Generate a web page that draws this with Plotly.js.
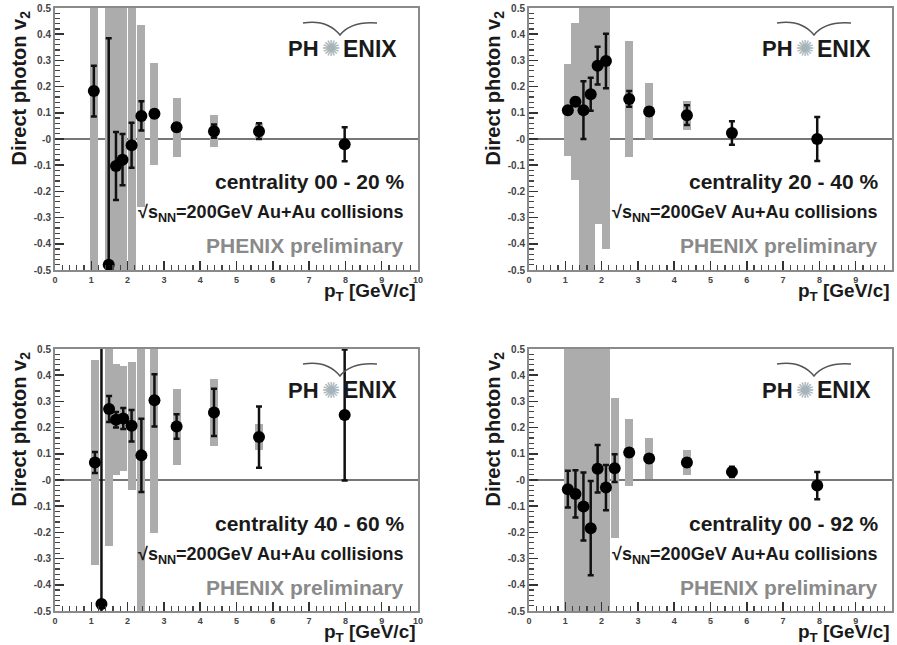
<!DOCTYPE html>
<html>
<head>
<meta charset="utf-8">
<script src="https://cdn.plot.ly/plotly-3.0.1.min.js"></script>
<style>html,body{margin:0;padding:0;background:#fff;}#chart{width:897px;height:645px;}</style>
</head>
<body>
<div id="chart"></div>
<script>
// ---------- data ----------
const panelLabels = ["centrality 00 - 20 %", "centrality 20 - 40 %", "centrality 40 - 60 %", "centrality 00 - 92 %"];

const pt_00_20   = [1.07, 1.48, 1.68, 1.86, 2.11, 2.38, 2.74, 3.35, 4.38, 5.62, 7.98];
const v2_00_20   = [0.183, -0.48, -0.103, -0.079, -0.024, 0.088, 0.096, 0.045, 0.030, 0.030, -0.020];
const stat_00_20 = [0.097, 0.865, 0.13, 0.098, 0.086, 0.056, 0.015, 0.015, 0.025, 0.03, 0.065];
const sys_00_20  = [1.0, 1.0, 1.0, 1.0, 1.0, 0.349, 0.195, 0.112, 0.062, 0.03, 0];

const pt_20_40   = [1.07, 1.28, 1.5, 1.7, 1.89, 2.12, 2.76, 3.31, 4.35, 5.59, 7.94];
const v2_20_40   = [0.11, 0.142, 0.11, 0.171, 0.28, 0.298, 0.153, 0.105, 0.091, 0.023, 0.0];
const stat_20_40 = [0.015, 0.015, 0.11, 0.063, 0.072, 0.104, 0.03, 0.015, 0.038, 0.045, 0.084];
const sys_20_40  = [0.176, 0.30, 1.0, 1.0, 0.605, 0.718, 0.22, 0.107, 0.055, 0, 0];

const pt_40_60   = [1.1, 1.28, 1.49, 1.68, 1.88, 2.11, 2.38, 2.74, 3.35, 4.38, 5.62, 7.98];
const v2_40_60   = [0.067, -0.473, 0.271, 0.23, 0.235, 0.207, 0.094, 0.304, 0.204, 0.258, 0.164, 0.248];
const stat_40_60 = [0.04, 1.0, 0.05, 0.03, 0.04, 0.06, 0.14, 0.1, 0.047, 0.09, 0.117, 0.25];
const sys_40_60  = [0.39, 0, 0.523, 0.211, 0.2, 0.244, 1.0, 0.507, 0.145, 0.127, 0.05, 0];

const pt_00_92   = [1.07, 1.28, 1.5, 1.7, 1.89, 2.12, 2.36, 2.76, 3.31, 4.35, 5.59, 7.94];
const v2_00_92   = [-0.035, -0.053, -0.101, -0.184, 0.043, -0.029, 0.045, 0.105, 0.082, 0.067, 0.031, -0.021];
const stat_00_92 = [0.07, 0.09, 0.13, 0.18, 0.091, 0.086, 0.053, 0.015, 0.015, 0.015, 0.02, 0.052];
const sys_00_92  = [1.0, 1.0, 1.0, 1.0, 1.0, 1.0, 0.268, 0.126, 0.078, 0.048, 0.02, 0];

const yTickVals = [-0.5, -0.4, -0.3, -0.2, -0.1, 0, 0.1, 0.2, 0.3, 0.4, 0.5];
const yTickText = ["-0.5", "-0.4", "-0.3", "-0.2", "-0.1", "-0", "0.1", "0.2", "0.3", "0.4", "0.5"];
const xTickVals = [0, 1, 2, 3, 4, 5, 6, 7, 8, 9, 10];
const xTickText = ["0", "1", "2", "3", "4", "5", "6", "7", "8", "9", "10"];

// ---------- layout geometry ----------
const W = 897, H = 645;
const FONT = "Liberation Sans, Arial, Helvetica, sans-serif";
const panels = [
  {pt: pt_00_20, v2: v2_00_20, st: stat_00_20, sy: sys_00_20, x0: 55, y0: 8},
  {pt: pt_20_40, v2: v2_20_40, st: stat_20_40, sy: sys_20_40, x0: 529, y0: 8},
  {pt: pt_40_60, v2: v2_40_60, st: stat_40_60, sy: sys_40_60, x0: 55, y0: 349},
  {pt: pt_00_92, v2: v2_00_92, st: stat_00_92, sy: sys_00_92, x0: 529, y0: 349}
];
const PW = 363, PH = 262;
const px = v => v / W;
const py = v => 1 - v / H;

const traces = [];
const layout = {
  width: W, height: H,
  margin: {l: 0, r: 0, t: 0, b: 0},
  paper_bgcolor: "#ffffff", plot_bgcolor: "#ffffff",
  showlegend: false, barmode: "overlay", bargap: 0,
  font: {family: FONT, color: "#111"},
  annotations: [], shapes: []
};

panels.forEach((p, i) => {
  const n = i + 1;
  const xa = "x" + (n === 1 ? "" : n), ya = "y" + (n === 1 ? "" : n);
  const xk = "xaxis" + (n === 1 ? "" : n), yk = "yaxis" + (n === 1 ? "" : n);
  // systematic boxes
  const keep = p.sy.map(s => s > 0);
  traces.push({
    type: "bar", xaxis: xa, yaxis: ya,
    x: p.pt.filter((_, k) => keep[k]),
    y: p.sy.filter((_, k) => keep[k]).map(s => 2 * s),
    base: p.pt.map((_, k) => p.v2[k] - p.sy[k]).filter((_, k) => keep[k]),
    width: 0.22,
    marker: {color: "#acacac", line: {width: 0}},
    hoverinfo: "skip"
  });
  // points with statistical errors
  traces.push({
    type: "scatter", mode: "markers", xaxis: xa, yaxis: ya,
    x: p.pt, y: p.v2,
    error_y: {type: "data", array: p.st, visible: true, color: "#111", thickness: 2.5, width: 3},
    marker: {color: "#000", size: 12},
    cliponaxis: true
  });
  layout[xk] = {
    domain: [px(p.x0), px(p.x0 + PW)], anchor: ya, range: [0, 10],
    tickmode: "array", tickvals: xTickVals, ticktext: xTickText,
    ticks: "inside", ticklen: 9, tickwidth: 1.5, tickcolor: "#333",
    minor: {dtick: 0.2, ticklen: 5, tickwidth: 1.2, tickcolor: "#444", ticks: "inside"},
    showline: true, linecolor: "#8a8a8a", linewidth: 2, mirror: true,
    showgrid: false, zeroline: false,
    tickfont: {family: FONT, size: 9, color: "#444", weight: "bold"}
  };
  layout[yk] = {
    domain: [py(p.y0 + PH), py(p.y0)], anchor: xa, range: [-0.5, 0.5],
    tickmode: "array", tickvals: yTickVals, ticktext: yTickText,
    ticks: "inside", ticklen: 9, tickwidth: 1.5, tickcolor: "#333",
    minor: {dtick: 0.02, ticklen: 5, tickwidth: 1.2, tickcolor: "#444", ticks: "inside"},
    showline: true, linecolor: "#8a8a8a", linewidth: 2, mirror: true,
    showgrid: false, zeroline: true, zerolinecolor: "#777", zerolinewidth: 2,
    tickfont: {family: FONT, size: 10, color: "#444", weight: "bold"}
  };

  const R = p.x0 + PW - 12; // right edge for text
  const ann = layout.annotations;
  ann.push({xref: "paper", yref: "paper", x: px(R), y: py(p.y0 + 174), xanchor: "right", yanchor: "middle",
    text: panelLabels[i], showarrow: false, font: {family: FONT, size: 21, color: "#1a1a1a", weight: "bold"}});
  ann.push({xref: "paper", yref: "paper", x: px(R), y: py(p.y0 + 206), xanchor: "right", yanchor: "middle",
    text: "√s<sub>NN</sub>=200GeV Au+Au collisions", showarrow: false,
    font: {family: FONT, size: 18, color: "#1a1a1a", weight: "bold"}});
  ann.push({xref: "paper", yref: "paper", x: px(R), y: py(p.y0 + 238), xanchor: "right", yanchor: "middle",
    text: "PHENIX preliminary", showarrow: false, font: {family: FONT, size: 21, color: "#8a8a8a", weight: "bold"}});
  // logo
  ann.push({xref: "paper", yref: "paper", x: px(p.x0 + 266), y: py(p.y0 + 41), xanchor: "right", yanchor: "middle",
    text: "PH", showarrow: false, font: {family: FONT, size: 22, color: "#1a1a1a", weight: "bold"}});
  ann.push({xref: "paper", yref: "paper", x: px(p.x0 + 276), y: py(p.y0 + 41), xanchor: "center", yanchor: "middle",
    text: "✺", showarrow: false, font: {family: "DejaVu Sans", size: 22, color: "#a6b4ba"}});
  ann.push({xref: "paper", yref: "paper", x: px(p.x0 + 286), y: py(p.y0 + 41), xanchor: "left", yanchor: "middle",
    text: "ENIX", showarrow: false, font: {family: FONT, size: 23, color: "#1a1a1a", weight: "bold"}});
  // logo arc (decoration)
  layout.shapes.push({type: "path", xref: "paper", yref: "paper",
    path: `M ${px(p.x0 + 248)} ${py(p.y0 + 15)} Q ${px(p.x0 + 272)} ${py(p.y0 + 11)} ${px(p.x0 + 285)} ${py(p.y0 + 27)} Q ${px(p.x0 + 296)} ${py(p.y0 + 13)} ${px(p.x0 + 322)} ${py(p.y0 + 15)}`,
    line: {color: "#555", width: 1.5}});
  // axis titles
  ann.push({xref: "paper", yref: "paper", x: px(p.x0 - 35), y: py(p.y0 + 1), xanchor: "center", yanchor: "top",
    text: "Direct photon v<sub>2</sub>", textangle: -90, showarrow: false,
    font: {family: FONT, size: 20, color: "#1a1a1a", weight: "bold"}});
  ann.push({xref: "paper", yref: "paper", x: px(p.x0 + PW), y: py(p.y0 + PH + 22), xanchor: "right", yanchor: "middle",
    text: "p<sub>T</sub> [GeV/c]", showarrow: false,
    font: {family: FONT, size: 19, color: "#1a1a1a", weight: "bold"}});
});

Plotly.newPlot("chart", traces, layout, {displayModeBar: false, staticPlot: true});
</script>
</body>
</html>
